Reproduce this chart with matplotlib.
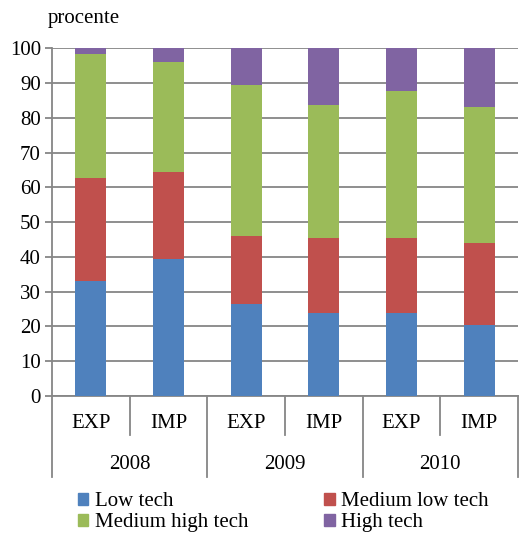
import numpy as np
import matplotlib.pyplot as plt
from matplotlib.patches import Patch
from matplotlib.transforms import blended_transform_factory

plt.rcParams['font.family'] = ['Liberation Serif', 'DejaVu Serif']

# categorii
ani = ["2008", "2009", "2010"]
fluxuri = ["EXP", "IMP", "EXP", "IMP", "EXP", "IMP"]

# procente pe niveluri tehnologice
low_tech = [33.0, 39.4, 26.4, 24.0, 24.0, 20.3]
medium_low = [29.6, 25.0, 19.6, 21.4, 21.4, 23.8]
medium_high = [35.8, 31.7, 43.4, 38.2, 42.3, 38.9]
high_tech = [1.6, 3.9, 10.6, 16.4, 12.3, 17.0]

serii = ["Low tech", "Medium low tech", "Medium high tech", "High tech"]
culori = ["#4F81BD", "#C0504D", "#9BBB59", "#8064A2"]
fs = 15

fig = plt.figure(figsize=(5.19, 5.35), dpi=100)
ax = fig.add_axes([0.1002, 0.2598, 0.8978, 0.6499])

x = np.arange(len(fluxuri))
baza = np.zeros(len(fluxuri))
for valori, culoare in zip([low_tech, medium_low, medium_high, high_tech], culori):
    ax.bar(x, valori, width=0.4, bottom=baza, color=culoare, zorder=3)
    baza += np.array(valori)

ax.set_ylim(0, 100)
ax.set_xlim(-0.5, len(fluxuri) - 0.5)
ax.set_yticks(range(0, 101, 10))
ax.yaxis.grid(True, color="#868686", linewidth=1.3, zorder=0)
ax.set_xticks([])
ax.tick_params(axis="y", labelsize=fs, color="#868686", length=5, width=1.3, pad=3)

for s in ["top", "right"]:
    ax.spines[s].set_visible(False)
for s in ["left", "bottom"]:
    ax.spines[s].set_color("#868686")
    ax.spines[s].set_linewidth(1.3)

# axa cu doua niveluri
tr = blended_transform_factory(ax.transData, ax.transAxes)
for i, f in enumerate(fluxuri):
    ax.text(i, -0.078, f, transform=tr, ha="center", va="center", fontsize=fs)
for i, an in enumerate(ani):
    ax.text(2 * i + 0.5, -0.198, an, transform=tr, ha="center", va="center", fontsize=fs)
for b in [0.5, 2.5, 4.5]:
    ax.plot([b, b], [0, -0.112], transform=tr, color="#868686", lw=1.3, clip_on=False)
for b in [-0.5, 1.5, 3.5, 5.5]:
    ax.plot([b, b], [0, -0.233], transform=tr, color="#868686", lw=1.3, clip_on=False)

fig.text(48 / 519, 1 - 19 / 535, "procente", fontsize=fs, ha="left", va="center")

h = [Patch(color=c) for c in culori]
ordine = [0, 2, 1, 3]
fig.legend([h[i] for i in ordine], [serii[i] for i in ordine], ncol=2,
           loc="upper left", bbox_to_anchor=(78 / 519, 1 - 492 / 535),
           frameon=False, fontsize=fs, handlelength=0.5, handleheight=0.5,
           handletextpad=0.3, columnspacing=3.65, labelspacing=0.12,
           borderpad=0, borderaxespad=0)

fig.savefig("out.png", dpi=100)
